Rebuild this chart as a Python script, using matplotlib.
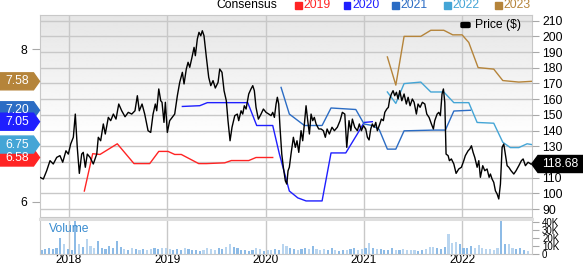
import numpy as np
import matplotlib.pyplot as plt
from matplotlib.patches import Polygon, Rectangle, FancyBboxPatch

plt.rcParams['font.family'] = ['Liberation Sans', 'DejaVu Sans']

# ---- data (dates as decimal years) ----
price_t = [2017.705, 2017.739, 2017.773, 2017.807, 2017.840, 2017.875, 2017.908, 2017.936, 2017.969, 2017.993,
           2018.017, 2018.044, 2018.064, 2018.084, 2018.105, 2018.129, 2018.145, 2018.166, 2018.186, 2018.214,
           2018.247, 2018.282, 2018.298, 2018.322, 2018.349, 2018.369, 2018.400, 2018.424, 2018.451, 2018.478,
           2018.506, 2018.536, 2018.570, 2018.603, 2018.638, 2018.671, 2018.695, 2018.715, 2018.743, 2018.770,
           2018.804, 2018.831, 2018.855, 2018.878, 2018.892, 2018.913, 2018.933, 2018.946, 2018.966, 2018.980,
           2019.000, 2019.024, 2019.075, 2019.102, 2019.126, 2019.153, 2019.170, 2019.193, 2019.211, 2019.228,
           2019.251, 2019.272, 2019.285, 2019.305, 2019.322, 2019.340, 2019.356, 2019.373, 2019.397, 2019.421,
           2019.442, 2019.465, 2019.488, 2019.516, 2019.533, 2019.556, 2019.577, 2019.600, 2019.617, 2019.638,
           2019.658, 2019.686, 2019.712, 2019.726, 2019.750, 2019.767, 2019.783, 2019.801, 2019.828, 2019.851,
           2019.869, 2019.885, 2019.902, 2019.926, 2019.953, 2019.977, 2020.004, 2020.032, 2020.055, 2020.072,
           2020.089, 2020.106, 2020.119, 2020.133, 2020.146, 2020.164, 2020.180, 2020.200, 2020.215, 2020.228,
           2020.241, 2020.258, 2020.282, 2020.302, 2020.319, 2020.337, 2020.360, 2020.377, 2020.394, 2020.411,
           2020.428, 2020.445, 2020.462, 2020.479, 2020.495, 2020.513, 2020.540, 2020.564, 2020.587, 2020.607,
           2020.625, 2020.648, 2020.675, 2020.699, 2020.729, 2020.757, 2020.780, 2020.805, 2020.825, 2020.848,
           2020.866, 2020.882, 2020.906, 2020.933, 2020.953, 2020.974, 2020.994, 2021.018, 2021.035, 2021.052,
           2021.069, 2021.085, 2021.103, 2021.120, 2021.136, 2021.161, 2021.177, 2021.197, 2021.212, 2021.232,
           2021.248, 2021.262, 2021.279, 2021.296, 2021.313, 2021.330, 2021.347, 2021.364, 2021.385, 2021.408,
           2021.431, 2021.449, 2021.469, 2021.492, 2021.510, 2021.533, 2021.550, 2021.571, 2021.594, 2021.619,
           2021.639, 2021.662, 2021.686, 2021.706, 2021.720, 2021.744, 2021.761, 2021.777, 2021.794, 2021.808,
           2021.822, 2021.835, 2021.856, 2021.869, 2021.889, 2021.914, 2021.937, 2021.964, 2021.991, 2022.015,
           2022.031, 2022.059, 2022.076, 2022.093, 2022.110, 2022.127, 2022.151, 2022.168, 2022.184, 2022.208,
           2022.229, 2022.252, 2022.273, 2022.286, 2022.303, 2022.320, 2022.337, 2022.354, 2022.371, 2022.388,
           2022.405, 2022.422, 2022.438, 2022.456, 2022.473, 2022.496, 2022.524, 2022.547, 2022.575, 2022.601,
           2022.619, 2022.642, 2022.669, 2022.697]
price = [110.2, 109.1, 114.4, 120.8, 118.7, 122.9, 124.0, 119.8, 127.1, 125.0,
         131.4, 135.7, 150.5, 129.3, 112.7, 125.0, 126.1, 116.6, 125.0, 122.9,
         118.7, 125.0, 135.7, 133.5, 144.2, 137.8, 148.4, 146.3, 150.5, 147.3,
         156.9, 152.6, 148.8, 151.6, 150.5, 152.6, 162.2, 152.6, 156.9, 150.5,
         139.9, 138.8, 150.5, 156.9, 152.6, 166.5, 159.0, 158.0, 145.2, 158.0,
         138.8, 146.3, 150.5, 162.2, 170.7, 177.1, 169.7, 179.2, 183.5, 180.3,
         186.7, 193.0, 187.7, 198.3, 202.6, 200.4, 203.6, 200.4, 186.7, 173.9,
         168.6, 171.8, 167.1, 170.7, 179.2, 177.1, 165.4, 159.0, 146.3, 133.5,
         142.1, 149.5, 150.5, 146.3, 152.6, 150.5, 155.8, 153.7, 163.3, 166.5,
         168.6, 165.4, 154.8, 147.3, 150.5, 153.7, 151.6, 150.5, 149.5, 151.6,
         148.4, 156.9, 161.2, 156.9, 142.1, 125.0, 116.6, 108.0, 105.9, 114.4,
         116.6, 125.0, 135.7, 129.3, 133.5, 126.1, 139.9, 133.5, 144.2, 155.8,
         146.3, 137.8, 150.5, 146.3, 148.4, 144.2, 141.0, 141.0, 139.9, 135.7,
         141.0, 137.8, 142.1, 139.9, 142.1, 146.3, 151.6, 150.5, 129.3, 146.3,
         139.9, 147.3, 142.1, 139.9, 144.2, 139.9, 143.1, 141.0, 135.7, 134.0,
         141.0, 144.2, 142.1, 145.2, 139.9, 144.2, 147.3, 146.3, 151.6, 153.7,
         154.8, 160.1, 163.3, 165.4, 162.2, 164.4, 160.1, 165.4, 159.0, 163.3,
         156.9, 161.2, 155.8, 160.1, 158.0, 150.5, 156.9, 154.8, 158.0, 156.9,
         150.5, 148.4, 144.2, 141.0, 146.3, 150.5, 151.6, 149.5, 163.3, 166.5,
         158.0, 125.0, 124.0, 120.8, 121.9, 118.7, 112.7, 115.5, 116.6, 120.8,
         124.0, 127.1, 128.2, 130.3, 126.1, 122.9, 116.6, 120.8, 110.2, 117.6,
         114.4, 115.5, 110.2, 112.3, 109.1, 107.0, 101.6, 99.6, 96.4, 105.9,
         129.3, 131.4, 125.0, 117.6, 116.6, 114.4, 112.3, 114.4, 117.6, 120.8,
         121.9, 117.6, 119.8, 118.68]

eps_2019_t = [2018.156, 2018.241, 2018.315, 2018.491, 2018.661, 2018.821, 2018.913, 2019.007, 2019.075,
              2019.142, 2019.319, 2019.397, 2019.584, 2019.651, 2019.828, 2019.902, 2020.072]
eps_2019 = [6.14, 6.63, 6.62, 6.76, 6.50, 6.50, 6.66, 6.66, 6.62, 6.62, 6.50, 6.50, 6.51, 6.54, 6.54, 6.58, 6.58]

eps_2020_t = [2019.153, 2019.330, 2019.407, 2019.818, 2019.909, 2020.072, 2020.139, 2020.241, 2020.327,
              2020.411, 2020.574, 2020.665, 2020.815, 2020.933, 2021.001, 2021.085]
eps_2020 = [7.25, 7.26, 7.30, 7.30, 7.00, 7.00, 6.63, 6.14, 6.05, 6.01, 6.01, 6.64, 6.64, 6.89, 7.04, 7.05]

eps_2021_t = [2020.157, 2020.241, 2020.394, 2020.574, 2020.665, 2020.917, 2021.001, 2021.085, 2021.154,
              2021.238, 2021.324, 2021.408, 2021.713, 2021.828, 2021.914, 2022.082]
eps_2021 = [7.50, 7.15, 7.00, 7.00, 7.23, 7.21, 7.02, 7.00, 6.95, 6.69, 6.69, 6.93, 6.94, 6.94, 7.19, 7.20]

eps_2022_t = [2021.238, 2021.324, 2021.408, 2021.578, 2021.680, 2021.812, 2021.914, 2022.066, 2022.151,
              2022.320, 2022.412, 2022.489, 2022.575, 2022.659, 2022.706]
eps_2022 = [7.44, 7.29, 7.55, 7.57, 7.44, 7.44, 7.30, 7.30, 7.04, 7.03, 6.78, 6.71, 6.71, 6.76, 6.75]

eps_2023_t = [2021.238, 2021.324, 2021.408, 2021.578, 2021.680, 2021.812, 2021.903, 2021.998, 2022.066,
              2022.161, 2022.320, 2022.412, 2022.575, 2022.706]
eps_2023 = [7.90, 7.53, 8.17, 8.17, 8.25, 8.25, 8.19, 8.19, 8.09, 7.76, 7.74, 7.59, 7.57, 7.58]

# volume every two weeks, in thousands
vol_start = 2017.72
vol_step = 2 / 52.18
volume_k = [5, 6, 8, 6, 7, 20, 12, 6, 5, 42, 13, 9, 19, 10, 8, 16, 7, 6, 10, 8,
            17, 9, 6, 5, 7, 6, 5, 6, 5, 6, 8, 6, 7, 8, 6, 5, 6, 5, 8, 6,
            5, 5, 4, 5, 7, 6, 5, 7, 6, 9, 13, 9, 7, 5, 5, 4, 5, 8, 6, 4,
            5, 5, 6, 5, 12, 10, 7, 6, 5, 6, 8, 6, 10, 6, 5, 6, 5, 7, 5, 4,
            5, 5, 6, 7, 5, 6, 7, 14, 8, 6, 6, 5, 5, 7, 5, 5, 6, 5, 5, 5,
            4, 5, 6, 9, 9, 7, 6, 9, 25, 14, 15, 13, 8, 7, 10, 7, 11, 8, 6, 6,
            5, 7, 41, 12, 12, 8, 6, 7, 5, 4]

years = [2018, 2019, 2020, 2021, 2022]
price_ticks = list(range(90, 211, 10))
vol_ticks_k = [0, 10, 20, 30, 40]

series = [
    ('2019', eps_2019_t, eps_2019, '#ff2424'),
    ('2020', eps_2020_t, eps_2020, '#1f1fff'),
    ('2021', eps_2021_t, eps_2021, '#2b6cc4'),
    ('2022', eps_2022_t, eps_2022, '#44a5d6'),
    ('2023', eps_2023_t, eps_2023, '#b5843a'),
]

# ---- layout (pixels of a 583x265 image) ----
W, H = 583, 265
fig = plt.figure(figsize=(W / 100, H / 100), dpi=100)


def fx(px):
    return px / W


def fy(py):
    return 1 - py / H


X0, X1 = 40, 531.7
Y_TOP, Y_BOT = 14.5, 216.7
VY_TOP, VY_BOT = 218.7, 254
XMIN, XMAX = 2017.705, 2022.706
EPS_LO, EPS_HI = 5.803, 8.457
P_LO, P_HI = 85.1, 213.95

ax = fig.add_axes([fx(X0), fy(Y_BOT), fx(X1) - fx(X0), fy(Y_TOP) - fy(Y_BOT)])
ax2 = ax.twinx()
axv = fig.add_axes([fx(X0), fy(VY_BOT), fx(X1) - fx(X0), fy(VY_TOP) - fy(VY_BOT)], sharex=ax)

grid_c = '#c8c8c8'
tick_c = '#a8a8a8'
fs = 8.7

# gradient background
grad = np.minimum(np.linspace(0.90, 1.06, 200), 1.0).reshape(-1, 1)
ax.imshow(grad, cmap='gray', vmin=0, vmax=1, extent=[0, 1, 0, 1], transform=ax.transAxes,
          aspect='auto', zorder=0, interpolation='bilinear')

# horizontal grid at price levels (drawn on the EPS axes so lines sit underneath)
for p in price_ticks:
    f = (p - P_LO) / (P_HI - P_LO)
    ax.plot([0, 1], [f, f], transform=ax.transAxes, color=grid_c, lw=1, zorder=1)
for y in years:
    ax.axvline(y, color=grid_c, lw=1, zorder=1)
    axv.axvline(y, color=grid_c, lw=1, zorder=0)

for name, t, v, c in series:
    ax.plot(t, v, color=c, lw=1, zorder=3)

ax2.plot(price_t, price, color='black', lw=1, zorder=4)

ax.set_xlim(XMIN, XMAX)
ax.set_ylim(EPS_LO, EPS_HI)
ax2.set_ylim(P_LO, P_HI)

for a in (ax, ax2, axv):
    for s in a.spines.values():
        s.set_color(grid_c)
for s in ax2.spines.values():
    s.set_visible(False)

# the 7 tick is hidden behind the value tags in the reference
ax.set_yticks([6, 8])
ax.tick_params(axis='y', length=6, color=tick_c, labelsize=fs, pad=3)
ax.tick_params(axis='x', bottom=False, labelbottom=False)
ax2.set_yticks(price_ticks)
# 120 sits under the last-price tag
ax2.set_yticklabels(['' if p == 120 else str(p) for p in price_ticks])
ax2.tick_params(axis='y', length=5, color=tick_c, labelsize=fs, pad=2.5)

# volume panel
vol_t = vol_start + vol_step * np.arange(len(volume_k))
vol_vals = np.array(volume_k) * 1000
p_at = np.interp(vol_t, price_t, price)
up = np.diff(np.r_[p_at[0], p_at]) >= 0
vcols = np.where(up, '#8dbbe6', '#b9d5ef')
axv.bar(vol_t, vol_vals, width=0.022, color=vcols, zorder=2)
axv.set_ylim(0, 44500)
axv.yaxis.tick_right()
axv.set_yticks([k * 1000 for k in vol_ticks_k])
axv.set_yticklabels(['0' if k == 0 else f'{k}K' for k in vol_ticks_k])
axv.tick_params(axis='y', length=5, color=tick_c, labelsize=7, pad=2.5)
axv.set_xticks(years)
axv.set_xticklabels([str(y) for y in years])
axv.tick_params(axis='x', length=0, labelsize=8.5, pad=-0.3)
axv.spines['top'].set_color('#dedede')
axv.spines['top'].set_linewidth(2.2)
axv.text(0.018, 0.70, 'Volume', transform=axv.transAxes, color='#3a8cd0', fontsize=fs,
         va='center', ha='left')

# ---- consensus legend on top ----
fig.text(fx(216.5), fy(5.5), 'Consensus', fontsize=fs, va='center', ha='left')
leg_x = [295, 343.5, 392, 444, 495]
for (name, t, v, c), lx in zip(series, leg_x):
    fig.patches.append(Rectangle((fx(lx), fy(9)), fx(6.5), fy(2) - fy(9), transform=fig.transFigure,
                                 color=c, zorder=3))
    fig.text(fx(lx + 8.5), fy(5.5), name, color=c, fontsize=fs, va='center', ha='left')

# price legend inside plot
fig.patches.append(FancyBboxPatch((fx(461), fy(27.5)), fx(9), fy(22.5) - fy(27.5),
                                  boxstyle='round,pad=0,rounding_size=0.003',
                                  transform=fig.transFigure, color='black', zorder=3))
fig.text(fx(475.5), fy(25), 'Price ($)', fontsize=fs, va='center', ha='left')


# ---- value tags ----
def eps_to_py(v):
    return Y_TOP + (EPS_HI - v) / (EPS_HI - EPS_LO) * (Y_BOT - Y_TOP)


def price_to_py(v):
    return Y_TOP + (P_HI - v) / (P_HI - P_LO) * (Y_BOT - Y_TOP)


hh = 8.5
tag_order = [('2023', 7.58), ('2021', 7.20), ('2020', 7.05), ('2019', 6.58), ('2022', 6.75)]
colmap = {name: c for name, t, v, c in series}
for name, val in tag_order:
    yc = eps_to_py(val)
    pts = [(0, yc - hh), (33.5, yc - hh), (39.5, yc), (33.5, yc + hh), (0, yc + hh)]
    fig.patches.append(Polygon([(fx(a), fy(b)) for a, b in pts], closed=True,
                               transform=fig.transFigure, color=colmap[name], zorder=3))
    fig.text(fx(17.5), fy(yc), f'{val:.2f}', color='white', fontsize=fs, va='center', ha='center',
             zorder=4)

last_price = price[-1]
yc = price_to_py(last_price)
pts = [(531.7, yc), (538, yc - hh), (583, yc - hh), (583, yc + hh), (538, yc + hh)]
fig.patches.append(Polygon([(fx(a), fy(b)) for a, b in pts], closed=True,
                           transform=fig.transFigure, color='black', zorder=3))
fig.text(fx(560), fy(yc), f'{last_price:.2f}', color='white', fontsize=fs, va='center', ha='center',
         zorder=4)

fig.savefig('out.png', dpi=100)
